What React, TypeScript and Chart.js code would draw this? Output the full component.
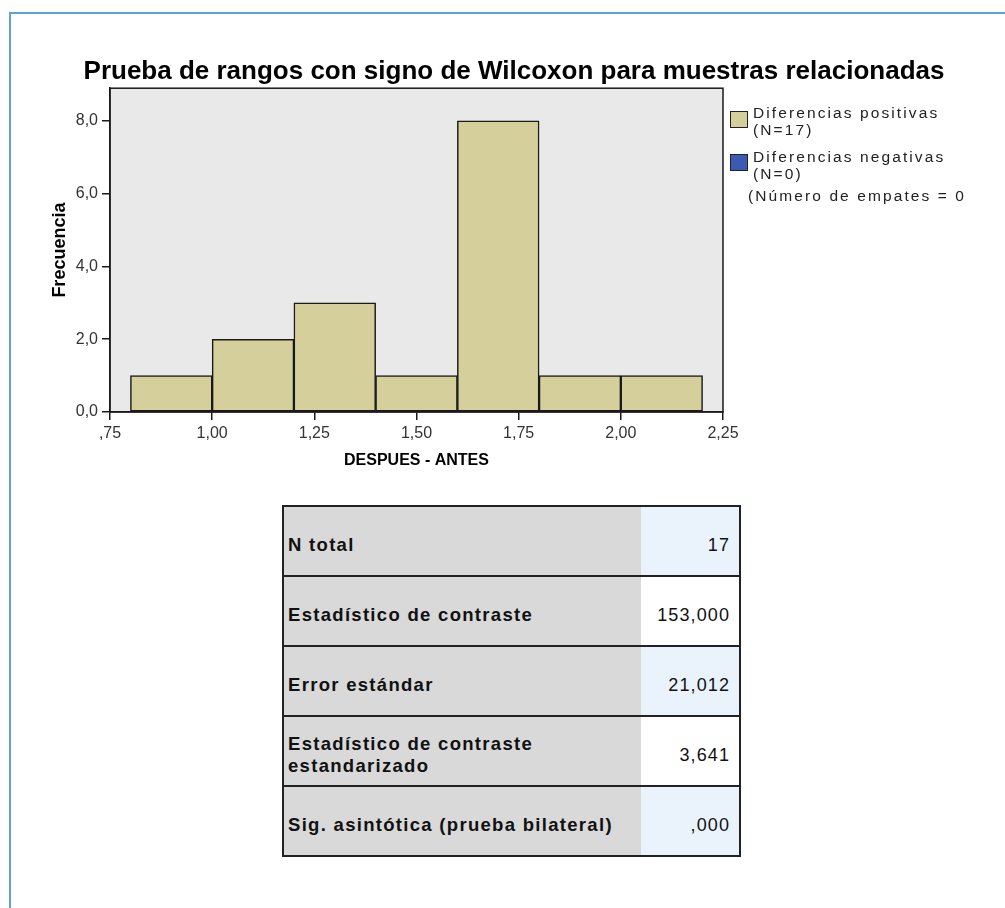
import React, { useEffect, useRef } from "react";
import { Chart, registerables } from "chart.js";

Chart.register(...registerables);

// ---- data ----
const chartTitle = "Prueba de rangos con signo de Wilcoxon para muestras relacionadas";
const binStarts = [0.8, 1.0, 1.2, 1.4, 1.6, 1.8, 2.0];
const binWidth = 0.2;
const positiveFrequencies = [1, 2, 3, 1, 8, 1, 1];
const negativeFrequencies: number[] = [];
const xAxisTitle = "DESPUES - ANTES";
const yAxisTitle = "Frecuencia";
const xMin = 0.75;
const xMax = 2.25;
const xStep = 0.25;
const yMin = 0;
const yMax = 8.9;
const yStep = 2;
const legendPositive = ["Diferencias positivas", "(N=17)"];
const legendNegative = ["Diferencias negativas", "(N=0)"];
const legendTies = "(Número de empates = 0";
const tableLabels = [
  ["N total"],
  ["Estadístico de contraste"],
  ["Error estándar"],
  ["Estadístico de contraste", "estandarizado"],
  ["Sig. asintótica (prueba bilateral)"],
];
const tableValues = ["17", "153,000", "21,012", "3,641", ",000"];

const POS_COLOR = "#d4cf9b";
const NEG_COLOR = "#3c5ab4";
const FONT = "'Liberation Sans', Arial, sans-serif";

const fmtX = (v: number) => {
  const s = v.toFixed(2).replace(".", ",");
  return s.startsWith("0") ? s.slice(1) : s;
};
const fmtY = (v: number) => v.toFixed(1).replace(".", ",");

const plotFrame = {
  id: "plotFrame",
  beforeDraw(chart: any) {
    const { ctx, chartArea: a } = chart;
    ctx.save();
    ctx.fillStyle = "#e9e9e9";
    ctx.fillRect(a.left, a.top, a.right - a.left, a.bottom - a.top);
    ctx.restore();
  },
  afterDraw(chart: any) {
    const { ctx, chartArea: a } = chart;
    ctx.save();
    ctx.strokeStyle = "#1a1a1a";
    ctx.lineWidth = 1.5;
    ctx.strokeRect(a.left, a.top, a.right - a.left, a.bottom - a.top);
    ctx.restore();
  },
};

function Histogram() {
  const ref = useRef<HTMLCanvasElement | null>(null);
  useEffect(() => {
    if (!ref.current) return;
    Chart.defaults.font.family = FONT;
    const chart = new Chart(ref.current, {
      type: "bar",
      data: {
        datasets: [
          {
            label: "Diferencias positivas (N=17)",
            data: binStarts.map((s, i) => ({ x: s + binWidth / 2, y: positiveFrequencies[i] })),
            backgroundColor: POS_COLOR,
            borderColor: "#1a1a1a",
            borderWidth: 1.5,
            borderSkipped: false,
            barPercentage: 1,
            categoryPercentage: 1,
            grouped: false,
          },
          {
            label: "Diferencias negativas (N=0)",
            data: negativeFrequencies.map((v, i) => ({ x: binStarts[i] + binWidth / 2, y: v })),
            backgroundColor: NEG_COLOR,
            borderColor: "#1a1a1a",
            borderWidth: 1.5,
            borderSkipped: false,
            barPercentage: 1,
            categoryPercentage: 1,
            grouped: false,
          },
        ],
      },
      options: {
        responsive: false,
        animation: false,
        layout: { padding: { left: 30, right: 7, top: 40, bottom: 8 } },
        plugins: {
          legend: { display: false },
          tooltip: { enabled: false },
          title: {
            display: true,
            text: chartTitle,
            color: "#000",
            font: { size: 26, weight: "bold", family: FONT },
            padding: { top: 16, bottom: 1 },
          },
        },
        scales: {
          x: {
            type: "linear",
            min: xMin,
            max: xMax,
            offset: false,
            grid: { offset: false, drawOnChartArea: false, drawTicks: true, tickLength: 8, color: "#1a1a1a", lineWidth: 1.5 },
            border: { display: true, color: "#1a1a1a", width: 1.5 },
            ticks: {
              stepSize: xStep,
              includeBounds: false,
              autoSkip: false,
              maxRotation: 0,
              color: "#333",
              font: { size: 16 },
              padding: 4,
              callback: (v: any) => fmtX(Number(v)),
            },
            title: {
              display: true,
              text: xAxisTitle,
              color: "#000",
              font: { size: 16, weight: "bold" },
              padding: { top: 0, bottom: 12 },
            },
            afterFit: (s: any) => {
              s.height = 70;
            },
          },
          y: {
            type: "linear",
            min: yMin,
            max: yMax,
            grid: { drawOnChartArea: false, drawTicks: true, tickLength: 8, color: "#1a1a1a", lineWidth: 1.5 },
            border: { display: true, color: "#1a1a1a", width: 1.5 },
            ticks: {
              stepSize: yStep,
              includeBounds: false,
              color: "#333",
              font: { size: 16 },
              padding: 4,
              callback: (v: any) => fmtY(Number(v)),
            },
            title: {
              display: true,
              text: yAxisTitle,
              color: "#000",
              font: { size: 18, weight: "bold" },
              padding: { top: 19, bottom: 0 },
            },
            afterFit: (s: any) => {
              s.width = 80;
            },
          },
          legendSpace: {
            type: "linear",
            position: "right",
            display: true,
            grid: { display: false, drawTicks: false },
            border: { display: false },
            ticks: { display: false },
            title: { display: false },
            afterFit: (s: any) => {
              s.width = 275;
            },
          },
        },
      },
      plugins: [plotFrame],
    });
    return () => chart.destroy();
  }, []);
  return (
    <canvas
      ref={ref}
      width={1005}
      height={490}
      style={{ position: "absolute", left: 0, top: 0, width: 1005, height: 490 }}
    />
  );
}

const legendText: React.CSSProperties = {
  position: "absolute",
  fontFamily: FONT,
  fontSize: 15.5,
  lineHeight: "18px",
  color: "#222",
  letterSpacing: "2.1px",
  whiteSpace: "nowrap",
};

export default function App() {
  return (
    <div
      style={{
        position: "fixed",
        left: 0,
        top: 0,
        width: 1005,
        height: 908,
        background: "#fff",
        overflow: "hidden",
        fontFamily: FONT,
      }}
    >
      <div style={{ position: "absolute", left: 9, top: 12, right: 0, height: 2, background: "#62a0dc" }} />
      <div style={{ position: "absolute", left: 9, top: 12, bottom: 0, width: 2, background: "#62a0dc" }} />
      <Histogram />
      {/* legend */}
      <div
        style={{
          position: "absolute",
          left: 730,
          top: 111,
          width: 16,
          height: 15,
          background: POS_COLOR,
          border: "1.5px solid #222",
        }}
      />
      <div style={{ ...legendText, left: 753, top: 104 }}>{legendPositive[0]}</div>
      <div style={{ ...legendText, left: 753, top: 121 }}>{legendPositive[1]}</div>
      <div
        style={{
          position: "absolute",
          left: 730,
          top: 154,
          width: 16,
          height: 15,
          background: NEG_COLOR,
          border: "1.5px solid #222",
        }}
      />
      <div style={{ ...legendText, left: 753, top: 148 }}>{legendNegative[0]}</div>
      <div style={{ ...legendText, left: 753, top: 165 }}>{legendNegative[1]}</div>
      <div style={{ ...legendText, left: 748, top: 187 }}>{legendTies}</div>
      {/* statistics table */}
      <table
        style={{
          position: "absolute",
          left: 282,
          top: 505,
          width: 459,
          borderCollapse: "collapse",
          border: "2px solid #222",
          fontFamily: FONT,
        }}
      >
        <tbody>
          {tableLabels.map((lines, i) => (
            <tr key={i} style={{ height: 70 }}>
              <td
                style={{
                  width: 353,
                  background: "#d9d9da",
                  borderTop: "2px solid #222",
                  borderBottom: "2px solid #222",
                  padding: "8px 0 0 4px",
                  fontWeight: "bold",
                  fontSize: 18.5,
                  lineHeight: "22px",
                  letterSpacing: "1.3px",
                  color: "#111",
                  verticalAlign: "middle",
                  boxSizing: "content-box",
                  whiteSpace: "nowrap",
                }}
              >
                {lines.map((l, j) => (
                  <div key={j}>{l}</div>
                ))}
              </td>
              <td
                style={{
                  background: i % 2 === 0 ? "#eaf3fc" : "#ffffff",
                  borderTop: "2px solid #222",
                  borderBottom: "2px solid #222",
                  padding: "8px 9px 0 0",
                  textAlign: "right",
                  fontSize: 18,
                  lineHeight: "22px",
                  letterSpacing: "1.1px",
                  color: "#111",
                  verticalAlign: "middle",
                }}
              >
                {tableValues[i]}
              </td>
            </tr>
          ))}
        </tbody>
      </table>
    </div>
  );
}
